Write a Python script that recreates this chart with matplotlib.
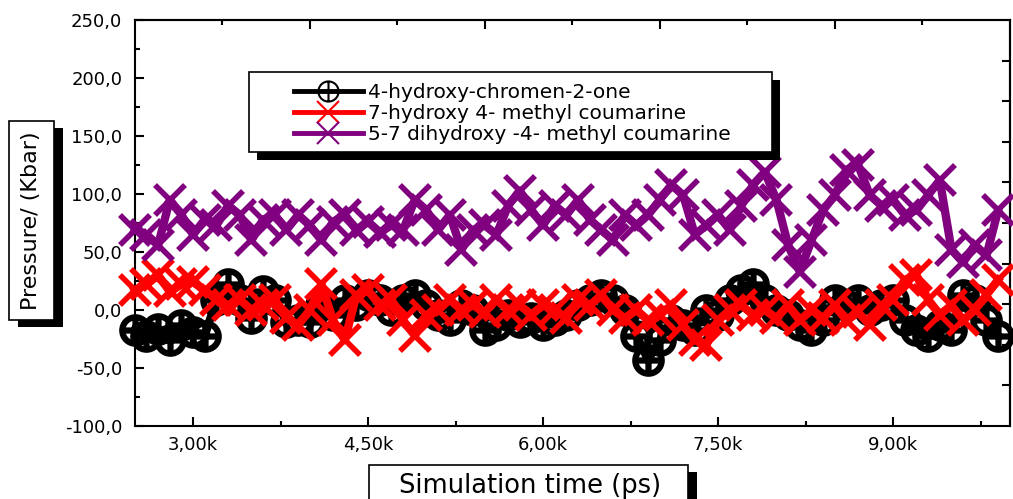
import matplotlib
matplotlib.use("Agg")
import matplotlib.pyplot as plt
from matplotlib.patches import Rectangle
from matplotlib.path import Path
from matplotlib.lines import Line2D
from matplotlib.ticker import MultipleLocator, FuncFormatter, FixedLocator, NullFormatter

# ---------------- data ----------------
time_ps = [2500 + 100 * i for i in range(75)]

hydroxy_chromenone = [
    -17, -22, -16, -26, -13, -19, -22, 9, 22, 9,
    -7, 16, 9, -10, -9, -10, 4, -4, 9, 4,
    13, 9, 0, 9, 13, 4, -4, -9, 4, 0,
    -17, -13, -4, -10, -7, -13, -9, -4, 4, 9,
    13, 9, 0, -22, -43, -26, -9, -13, -17, 0,
    -4, 9, 17, 22, 9, 0, -4, -13, -17, -9,
    9, 4, 9, 0, 4, 9, -9, -17, -22, -13,
    -17, 13, 9, -9, -22,
]

methyl_coumarine_7oh = [
    17, 22, 30, 16, 22, 24, 17, 9, 4, 9,
    0, 4, 9, -7, -13, 0, 22, -9, -26, 13,
    17, 4, 9, -9, -22, -4, 0, 9, 0, 4,
    -2, 9, 0, 4, -4, 4, 0, -7, 9, 4,
    13, 0, -7, 0, -9, -4, 4, -13, -26, -30,
    -9, 0, 4, -4, 0, -7, 4, -9, 0, -7,
    4, -9, -2, -13, 4, 9, 26, 30, 9, -4,
    4, -9, 0, 13, 26,
]

methyl_coumarine_57oh = [
    69, 65, 56, 95, 82, 65, 78, 73, 90, 82,
    60, 78, 82, 69, 82, 73, 60, 76, 82, 69,
    76, 67, 73, 69, 95, 86, 69, 82, 52, 69,
    73, 65, 90, 103, 86, 73, 90, 82, 95, 78,
    69, 60, 82, 73, 82, 95, 108, 99, 65, 73,
    82, 69, 90, 108, 119, 95, 56, 33, 60, 86,
    99, 121, 125, 99, 90, 95, 82, 86, 99, 112,
    52, 41, 56, 47, 86,
]

series_labels = [
    "4-hydroxy-chromen-2-one",
    "7-hydroxy 4- methyl coumarine",
    "5-7 dihydroxy -4- methyl coumarine",
]
series_colors = ["#000000", "#FF0000", "#800080"]

x_major_ticks = [3000, 4500, 6000, 7500, 9000]
top_major_ticks = [4000, 5500, 7000, 8500]
top_minor_ticks = [3250, 4750, 6250, 7750, 9250]
right_ticks = [-65, -30, 5, 40, 75, 110, 145, 180, 215]

# ---------------- figure ----------------
W, H = 1013, 499
fig = plt.figure(figsize=(W / 100, H / 100), dpi=100)
plt.rcParams["font.family"] = ["DejaVu Sans"]

def fx(px):
    return px / W

def fy(py):
    return 1 - py / H

ax_left, ax_right, ax_top, ax_bottom = 134.8, 1009.8, 20, 426
ax = fig.add_axes([fx(ax_left), fy(ax_bottom), fx(ax_right) - fx(ax_left), fy(ax_top) - fy(ax_bottom)])

circ = Path.unit_circle()
plus = Path([[-1, 0], [1, 0], [0, -1], [0, 1]],
            [Path.MOVETO, Path.LINETO, Path.MOVETO, Path.LINETO])
oplus = Path.make_compound_path(circ, plus)

l1, = ax.plot(time_ps, hydroxy_chromenone, color=series_colors[0], lw=6,
              marker=oplus, ms=19, mfc="none", mec=series_colors[0], mew=4.5,
              clip_on=False, zorder=3)
l2, = ax.plot(time_ps, methyl_coumarine_7oh, color=series_colors[1], lw=6,
              marker="x", ms=21, mec=series_colors[1], mew=4,
              clip_on=False, zorder=4)
l3, = ax.plot(time_ps, methyl_coumarine_57oh, color=series_colors[2], lw=6,
              marker="x", ms=21, mec=series_colors[2], mew=4,
              clip_on=False, zorder=5)

ax.set_xlim(2500, 10000)
ax.set_ylim(-100, 250)

ax.xaxis.set_major_locator(FixedLocator(x_major_ticks))
ax.xaxis.set_minor_locator(MultipleLocator(750))
ax.yaxis.set_major_locator(MultipleLocator(50))
ax.yaxis.set_minor_locator(MultipleLocator(25))
ax.xaxis.set_major_formatter(FuncFormatter(lambda v, p: f"{v/1000:.2f}k".replace(".", ",")))
ax.yaxis.set_major_formatter(FuncFormatter(lambda v, p: f"{v:.1f}".replace(".", ",")))

for s in ax.spines.values():
    s.set_linewidth(1.5)

ax.tick_params(which="both", direction="in", width=1.5, top=False, right=False)
ax.tick_params(which="major", length=6.5)
ax.tick_params(which="minor", length=3.6)
ax.tick_params(axis="y", which="major", labelsize=13, pad=9)
ax.tick_params(axis="x", which="major", labelsize=13, pad=7)

secx = ax.secondary_xaxis("top")
secx.xaxis.set_major_locator(FixedLocator(top_major_ticks))
secx.xaxis.set_minor_locator(FixedLocator(top_minor_ticks))
secx.xaxis.set_major_formatter(NullFormatter())
secx.tick_params(which="both", direction="in", width=1.5)
secx.tick_params(which="major", length=6.5)
secx.tick_params(which="minor", length=3.6)
secx.spines["top"].set_linewidth(1.5)

secy = ax.secondary_yaxis("right")
secy.yaxis.set_major_locator(FixedLocator(right_ticks))
secy.yaxis.set_major_formatter(NullFormatter())
secy.tick_params(which="both", direction="in", width=1.5, length=6)
secy.yaxis.set_minor_locator(FixedLocator([]))
secy.spines["right"].set_linewidth(1.5)

# ---------------- boxed labels with black shadows ----------------
def shadow_box(x0, y0, x1, y1, dx=9, dy=7):
    fig.add_artist(Rectangle((fx(x0 + dx), fy(y1 + dy)), fx(x1) - fx(x0), fy(y0) - fy(y1),
                             transform=fig.transFigure, facecolor="black",
                             edgecolor="none", zorder=3))
    fig.add_artist(Rectangle((fx(x0), fy(y1)), fx(x1) - fx(x0), fy(y0) - fy(y1),
                             transform=fig.transFigure, facecolor="white",
                             edgecolor="black", lw=1.2, zorder=4))

# y label
shadow_box(9, 121, 54, 320)
fig.text(fx(31.5), fy(221), "Pressure/ (Kbar)", rotation=90, ha="center", va="center",
         fontsize=16, zorder=6)

# x label
shadow_box(369, 465, 688, 520)
fig.text(fx(530), fy(486), "Simulation time (ps)", ha="center", va="center",
         fontsize=18.5, zorder=6)

# legend
shadow_box(249, 72, 772, 152, dx=8, dy=8)
handles = [
    Line2D([], [], color=series_colors[0], lw=3.5, marker=oplus, ms=14.5, mfc="none",
           mec=series_colors[0], mew=1.5),
    Line2D([], [], color=series_colors[1], lw=3.5, marker="x", ms=16, mew=1.5),
    Line2D([], [], color=series_colors[2], lw=3.5, marker="x", ms=16, mew=1.5),
]
leg = fig.legend(handles, series_labels, loc="center left",
                 bbox_to_anchor=(fx(284), fy(113.5)), bbox_transform=fig.transFigure,
                 frameon=False, borderpad=0, handlelength=3.4, handletextpad=0.25,
                 labelspacing=0.1, fontsize=14.5)
leg.set_zorder(7)

fig.savefig("out.png", dpi=100)
